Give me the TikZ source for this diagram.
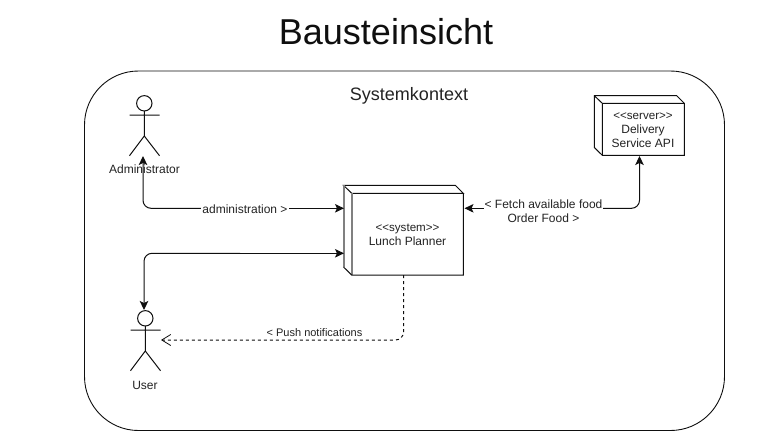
\documentclass[tikz,border=0pt]{standalone}
\usepackage{fontspec}
\setmainfont{Liberation Sans}
\usetikzlibrary{arrows.meta}
\definecolor{ink}{RGB}{15,15,15}
\definecolor{txt}{RGB}{35,35,35}
\tikzset{
  x=1pt,y=-1pt,
  lbl/.style={text=txt,font=\fontsize{12}{14}\selectfont,inner sep=0pt,align=center},
  lblbg/.style={lbl,fill=white,inner xsep=1pt,inner ysep=1pt},
  limb/.style={draw=ink,line width=1pt},
  conn/.style={draw=ink,line width=1pt,rounded corners=8pt},
  solidtip/.style={-{Stealth[length=9pt,width=8.5pt,inset=2pt]}},
  opentip/.style={-{Straight Barb[length=9pt,width=11pt,line width=0.8pt]}},
  boxface/.style={draw=ink,line width=1pt,fill=white},
}
\begin{document}
\begin{tikzpicture}
\useasboundingbox (0,0) rectangle (771,431);
\fill[white] (0,0) rectangle (771,431);
\node[font=\fontsize{36}{40}\selectfont,text=ink,inner sep=0pt] (title) at (386,32) {Bausteinsicht};
\draw[draw=ink,line width=0.9pt,rounded corners=54pt] (84.5,71) rectangle (724.5,430.5);
\node[lbl,font=\fontsize{18}{20}\selectfont] (ctx) at (409,96) {Systemkontext};
% actors
\draw[limb] (144.3,103.3) circle (7.7);
\draw[limb] (144.3,111) -- (144.3,136) (129.5,115) -- (159.5,115) (129.5,155.7) -- (144.3,136) -- (159.5,155.7);
\node[lbl] (admin) at (144.5,169.5) {Administrator};
\coordinate (adminport) at (143,156);
\draw[limb] (145.3,318.3) circle (7.7);
\draw[limb] (145.3,326) -- (145.3,351) (130.5,330) -- (160.5,330) (130.5,370.7) -- (145.3,351) -- (160.5,370.7);
\node[lbl] (user) at (145,385) {User};
\coordinate (userport) at (144,310);
\coordinate (userside) at (161,340);
% system
\fill[white] (343.5,185.3) -- (455.3,185.3) -- (463.3,193.3) -- (463.3,275) -- (351.7,275) -- (343.5,267) -- cycle;
\draw[boxface] (343.5,185.3) -- (455.3,185.3) -- (463.3,193.3) -- (351.7,193.3) -- cycle;
\draw[draw=gray,line width=1.6pt] (344,185.3) -- (344,267);
\draw[draw=gray,line width=1.6pt] (351.7,193.3) -- (351.7,275);
\draw[draw=ink,line width=1pt] (343.5,267) -- (351.7,275) -- (463.3,275) -- (463.3,193.3);
\node[lbl,minimum width=111pt,minimum height=81pt] (sys) at (407.5,235.2) {\fontsize{11.6}{14}\selectfont<{}<system>{}>\\\fontsize{12}{14}\selectfont Lunch Planner};
\coordinate (sysA) at (344,208.3);
\coordinate (sysB) at (344,253.3);
\coordinate (sysC) at (464.5,208.3);
\coordinate (sysD) at (403.5,275);
% server
\draw[boxface] (594.3,95.7) -- (676.7,95.7) -- (684.3,103.3) -- (684.3,155.3) -- (602.3,155.3) -- (594.3,147.5) -- cycle;
\draw[draw=ink,line width=1pt] (594.3,95.7) -- (602.3,103.3) -- (684.3,103.3) (602.3,103.3) -- (602.3,155.3);
\node[lbl,minimum width=80pt,minimum height=52pt] (srv) at (643,130) {\fontsize{11.6}{14}\selectfont<{}<server>{}>\\\fontsize{12}{14}\selectfont Delivery\\Service API};
\coordinate (srvport) at (639.5,156);
% connectors
\draw[conn,solidtip] (245,208.3) -| (adminport);
\draw[draw=ink,line width=1pt,solidtip] (245,208.3) -- (sysA);
\draw[conn,solidtip] (240,253.3) -| (userport);
\draw[draw=ink,line width=1pt,solidtip] (240,253.3) -- (sysB);
\draw[conn,solidtip] (540,208.3) -| (srvport);
\draw[draw=ink,line width=1pt,solidtip] (540,208.3) -- (sysC);
\draw[conn,dash pattern=on 3pt off 3pt,opentip] (sysD) |- (userside);
\node[lblbg] (adm) at (245,209.7) {administration >};
\node[lblbg,fill=white] (food) at (543.5,211.5) {< Fetch available food\\Order Food >};
\node[lbl,font=\fontsize{11}{12}\selectfont] (push) at (314.5,333) {< Push notifications};
\end{tikzpicture}
\end{document}
